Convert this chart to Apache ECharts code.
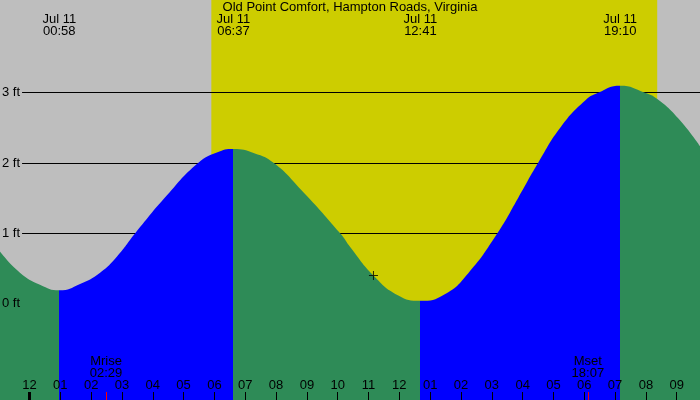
<!DOCTYPE html>
<html>
<head>
<meta charset="utf-8">
<title>Old Point Comfort tide</title>
<script src="https://cdn.jsdelivr.net/npm/echarts@6/dist/echarts.min.js"></script>
<style>
	html, body { margin: 0; padding: 0; background: #BEBEBE; }
	#tide_chart { width: 700px; height: 400px; }
</style>
</head>
<body>
<div id="tide_chart"></div>
<script>
//Station
let stationName = 'Old Point Comfort, Hampton Roads, Virginia';
let dayLabel = 'Jul 11';

//Tide height (ft), hours from midnight Jul 11
let tideHours = [-0.957, -0.31, 0.34, 0.967, 1.64, 2.29, 2.84, 3.43, 4.46, 5.47, 6.08, 6.617,
	7.29, 7.93, 8.81, 10.08, 10.43, 11.16, 11.95, 12.683, 13.46, 14.23, 15.18, 15.85,
	16.50, 17.25, 18.03, 18.45, 19.167, 19.97, 20.37, 21.04, 21.755];
let tideFeet = [0.74, 0.44, 0.27, 0.19, 0.28, 0.44, 0.67, 1.00, 1.54, 2.00, 2.15, 2.20,
	2.14, 2.00, 1.62, 1.00, 0.79, 0.40, 0.12, 0.04, 0.13, 0.43, 1.00, 1.50,
	2.00, 2.52, 2.89, 3.00, 3.10, 3.00, 2.91, 2.64, 2.24];

//High / low tides
let extremeTimes = ['00:58', '06:37', '12:41', '19:10'];
let extremeRising = [true, false, true, false]; //tide rises after this one

//Sun and moon
let sunTimes = ['05:54', '20:22'];
let moonTimes = ['02:29', '18:07'];
let moonNames = ['Mrise', 'Mset'];

//Current position marker
let nowPoint = [11.16, 0.40];

//Axis labels
let hourTicks = [0, 1, 2, 3, 4, 5, 6, 7, 8, 9, 10, 11, 12, 13, 14, 15, 16, 17, 18, 19, 20, 21];
let footTicks = [0, 1, 2, 3];
let xMin = -0.957, xMax = 21.755;
let yMin = -1.371, yMax = 4.319;

//Colours
let nightColor = '#BEBEBE';
let dayColor = '#CDCD00';
let fallColor = '#2E8B57';
let riseColor = '#0000FF';

let font = 'Liberation Sans';
let fontSize = 13;

function toHours(t) {
	let p = t.split(':');
	return parseInt(p[0], 10) + parseInt(p[1], 10) / 60;
}

function hourLabel(v) {
	let h = ((Math.round(v) % 12) + 12) % 12;
	if (h === 0) h = 12;
	return (h < 10 ? '0' : '') + h;
}

function nearestIndex(list, v) {
	let best = 0;
	for (let i = 0; i < list.length; i++) {
		if (Math.abs(list[i] - v) < Math.abs(list[best] - v)) best = i;
	}
	return best;
}

let extremeHours = extremeTimes.map(toHours);
let moonHours = moonTimes.map(toHours);
let sunHours = sunTimes.map(toHours);

//Green while falling, blue while rising
let pieces = [];
let prev = null;
for (let i = 0; i < extremeHours.length; i++) {
	let p = { lt: extremeHours[i], color: extremeRising[i] ? fallColor : riseColor };
	if (prev !== null) p.gte = prev;
	pieces.push(p);
	prev = extremeHours[i];
}
pieces.push({ gte: prev, color: extremeRising[extremeHours.length - 1] ? riseColor : fallColor });

let tideData = [];
for (let i = 0; i < tideHours.length; i++) {
	tideData.push([tideHours[i], tideFeet[i]]);
}

function xAxisBase() {
	return {
		type: 'value',
		min: xMin,
		max: xMax,
		position: 'bottom',
		z: 10,
		axisLine: { show: false, onZero: false },
		splitLine: { show: false },
		axisTick: { show: false },
		axisLabel: { show: false }
	};
}

//Hour ticks
let hourAxis = xAxisBase();
hourAxis.axisTick = { show: true, inside: true, length: 8, customValues: hourTicks, lineStyle: { color: '#000', width: 1 } };
hourAxis.axisLabel = { show: true, inside: true, margin: 8, customValues: hourTicks, color: '#000', fontSize: fontSize, fontFamily: font, formatter: hourLabel };

//Midnight gets a fat tick
let midnightAxis = xAxisBase();
midnightAxis.axisTick = { show: true, inside: true, length: 8, customValues: [0], lineStyle: { color: '#000', width: 3 } };

//Moon rise / set
let moonAxis = xAxisBase();
moonAxis.axisTick = { show: true, inside: true, length: 8, customValues: moonHours, lineStyle: { color: '#FF0000', width: 1 } };
moonAxis.axisLabel = {
	show: true, inside: true, margin: 21, customValues: moonHours, color: '#000', fontSize: fontSize, fontFamily: font, lineHeight: 11.5,
	formatter: function (v) {
		let i = nearestIndex(moonHours, v);
		return moonNames[i] + '\n' + moonTimes[i];
	}
};

//High / low times along the top
let topAxis = xAxisBase();
topAxis.position = 'top';
topAxis.axisLabel = {
	show: true, inside: true, margin: 13, customValues: extremeHours, color: '#000', fontSize: fontSize, fontFamily: font, lineHeight: 12.4,
	formatter: function (v) {
		let i = nearestIndex(extremeHours, v);
		return dayLabel + '\n' + extremeTimes[i];
	}
};

let chart = echarts.init(document.getElementById('tide_chart'));
chart.setOption({
	animation: false,
	backgroundColor: nightColor,
	textStyle: { fontFamily: font },
	title: {
		text: stationName,
		left: 'center',
		top: 1,
		padding: 0,
		textStyle: { color: '#000', fontSize: fontSize, fontWeight: 'normal', fontFamily: font }
	},
	grid: { left: 0, right: 0, top: 0, bottom: 0, containLabel: false, outerBoundsMode: 'none' },
	xAxis: [hourAxis, midnightAxis, moonAxis, topAxis],
	yAxis: [
		{
			//grid lines, under the water
			type: 'value', min: yMin, max: yMax, position: 'left', z: 2,
			axisLine: { show: false, onZero: false },
			axisTick: { show: false, customValues: [1, 2, 3] },
			axisLabel: { show: false },
			splitLine: { show: true, lineStyle: { color: '#000', width: 1 } }
		},
		{
			//foot labels on top of everything
			type: 'value', min: yMin, max: yMax, position: 'left', z: 10,
			axisLine: { show: false, onZero: false },
			axisTick: { show: false },
			splitLine: { show: false },
			axisLabel: {
				show: true, inside: true, margin: 0, customValues: footTicks,
				formatter: function (v) {
					return v === 0 ? '{plain|' + v + ' ft}' : '{bg|' + v + ' ft}';
				},
				rich: {
					bg: { color: '#000', fontSize: fontSize, fontFamily: font, backgroundColor: nightColor, padding: [1, 2, 1, 2] },
					plain: { color: '#000', fontSize: fontSize, fontFamily: font, padding: [1, 2, 1, 2] }
				}
			}
		}
	],
	visualMap: {
		type: 'piecewise',
		show: false,
		dimension: 0,
		seriesIndex: 0,
		pieces: pieces
	},
	series: [
		{
			type: 'line',
			z: 3,
			xAxisIndex: 0,
			yAxisIndex: 0,
			data: tideData,
			smooth: 0.5,
			showSymbol: false,
			silent: true,
			lineStyle: { width: 0 },
			areaStyle: { opacity: 1, origin: 'start' },
			markArea: {
				silent: true,
				itemStyle: { color: dayColor },
				data: [[{ xAxis: sunHours[0] }, { xAxis: sunHours[1] }]]
			}
		},
		{
			type: 'scatter',
			z: 11,
			xAxisIndex: 0,
			yAxisIndex: 0,
			silent: true,
			data: [nowPoint],
			symbol: 'path://M4,0h1v4h4v1h-4v4h-1v-4h-4v-1h4z',
			symbolSize: 9,
			itemStyle: { color: '#000' }
		}
	]
});
</script>
</body>
</html>
